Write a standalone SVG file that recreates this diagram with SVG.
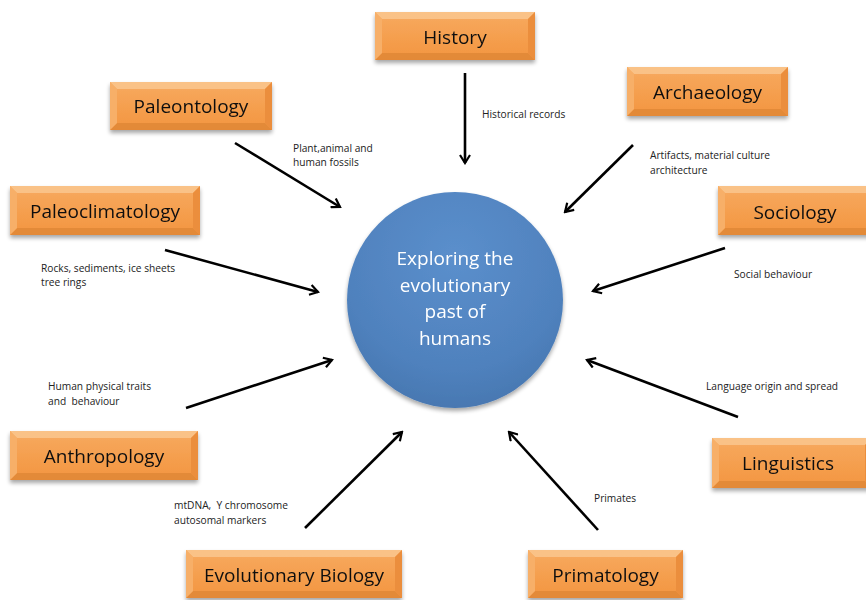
<svg xmlns="http://www.w3.org/2000/svg" width="866" height="600" viewBox="0 0 866 600">
<defs>
<linearGradient id="og" x1="0" y1="0" x2="0" y2="1">
<stop offset="0" stop-color="#F7AA60"/>
<stop offset="1" stop-color="#F3953F"/>
</linearGradient>
<radialGradient id="cg" cx="0.5" cy="0.3" r="0.75">
<stop offset="0" stop-color="#5B8FCC"/>
<stop offset="0.7" stop-color="#4F81BD"/>
<stop offset="1" stop-color="#4675AE"/>
</radialGradient>
<filter id="sh" x="-20%" y="-20%" width="140%" height="150%">
<feGaussianBlur in="SourceAlpha" stdDeviation="2"/>
<feOffset dx="0" dy="3" result="b"/>
<feComponentTransfer><feFuncA type="linear" slope="0.35"/></feComponentTransfer>
<feMerge><feMergeNode/><feMergeNode in="SourceGraphic"/></feMerge>
</filter>
<marker id="ah" viewBox="0 0 12 12" refX="10" refY="6" markerWidth="12" markerHeight="12" markerUnits="userSpaceOnUse" orient="auto">
<path d="M2,1 L10,6 L2,11" fill="none" stroke="#000" stroke-width="2.2"/>
</marker>
</defs>
<style>
.box{fill:url(#og)}
.bt{fill:#F9C48C;opacity:0.9}
.bb{fill:#DE8536;opacity:0.75}
.bl{fill:#F7AF68}
.br{fill:#EB8E3E}
.bx{font-family:"Open Sans","Liberation Sans",sans-serif;font-size:19px;fill:#111;text-anchor:middle}
.lb{font-family:"Open Sans","Liberation Sans",sans-serif;font-size:10.2px;fill:#222;white-space:pre}
.ct{font-family:"Open Sans","Liberation Sans",sans-serif;font-size:19px;fill:#fff;text-anchor:middle}
.cn{stroke:#000;stroke-width:2.6;fill:none;marker-end:url(#ah)}
</style>

<g id="center" filter="url(#sh)">
<circle cx="455" cy="300" r="108" fill="url(#cg)"/>
<text class="ct" x="455" y="265">Exploring the</text>
<text class="ct" x="455" y="292">evolutionary</text>
<text class="ct" x="455" y="318">past of</text>
<text class="ct" x="455" y="345">humans</text>
</g>

<g id="connectors">
<line class="cn" x1="465" y1="73" x2="465" y2="163"/>
<line class="cn" x1="235" y1="143" x2="340" y2="207"/>
<line class="cn" x1="633" y1="145" x2="565" y2="212"/>
<line class="cn" x1="165" y1="250" x2="318" y2="292"/>
<line class="cn" x1="725" y1="248" x2="593" y2="291"/>
<line class="cn" x1="186" y1="408" x2="332" y2="360"/>
<line class="cn" x1="738" y1="417" x2="587" y2="360"/>
<line class="cn" x1="305" y1="528" x2="402" y2="432"/>
<line class="cn" x1="598" y1="530" x2="509" y2="432"/>
</g>

<g id="labels">
<text class="lb" x="482" y="118">Historical records</text>
<text class="lb" x="293" y="152">Plant,animal and</text>
<text class="lb" x="293" y="166">human fossils</text>
<text class="lb" x="650" y="159">Artifacts, material culture</text>
<text class="lb" x="650" y="174">architecture</text>
<text class="lb" x="41" y="272">Rocks, sediments, ice sheets</text>
<text class="lb" x="41" y="286">tree rings</text>
<text class="lb" x="734" y="278">Social behaviour</text>
<text class="lb" x="48" y="390">Human physical traits</text>
<text class="lb" x="48" y="405" xml:space="preserve">and  behaviour</text>
<text class="lb" x="706" y="390">Language origin and spread</text>
<text class="lb" x="174" y="509" xml:space="preserve">mtDNA,  Y chromosome</text>
<text class="lb" x="174" y="524">autosomal markers</text>
<text class="lb" x="594" y="502">Primates</text>
</g>

<g id="history" filter="url(#sh)" transform="translate(375,12)">
<rect class="box" width="160" height="48"/>
<polygon class="bt" points="0,0 160,0 153,7 7,7"/>
<polygon class="bb" points="0,48 160,48 153,41 7,41"/>
<polygon class="bl" points="0,0 7,7 7,41 0,48"/>
<polygon class="br" points="160,0 153,7 153,41 160,48"/>
<text class="bx" x="80" y="32">History</text>
</g>

<g id="paleontology" filter="url(#sh)" transform="translate(110,82)">
<rect class="box" width="162" height="48"/>
<polygon class="bt" points="0,0 162,0 155,7 7,7"/>
<polygon class="bb" points="0,48 162,48 155,41 7,41"/>
<polygon class="bl" points="0,0 7,7 7,41 0,48"/>
<polygon class="br" points="162,0 155,7 155,41 162,48"/>
<text class="bx" x="81" y="31">Paleontology</text>
</g>

<g id="archaeology" filter="url(#sh)" transform="translate(627,67)">
<rect class="box" width="161" height="49"/>
<polygon class="bt" points="0,0 161,0 154,7 7,7"/>
<polygon class="bb" points="0,49 161,49 154,42 7,42"/>
<polygon class="bl" points="0,0 7,7 7,42 0,49"/>
<polygon class="br" points="161,0 154,7 154,42 161,49"/>
<text class="bx" x="80.5" y="32">Archaeology</text>
</g>

<g id="paleoclimatology" filter="url(#sh)" transform="translate(10,186)">
<rect class="box" width="190" height="49"/>
<polygon class="bt" points="0,0 190,0 183,7 7,7"/>
<polygon class="bb" points="0,49 190,49 183,42 7,42"/>
<polygon class="bl" points="0,0 7,7 7,42 0,49"/>
<polygon class="br" points="190,0 183,7 183,42 190,49"/>
<text class="bx" x="95" y="32">Paleoclimatology</text>
</g>

<g id="sociology" filter="url(#sh)" transform="translate(718,186)">
<rect class="box" width="156" height="49"/>
<polygon class="bt" points="0,0 156,0 149,7 7,7"/>
<polygon class="bb" points="0,49 156,49 149,42 7,42"/>
<polygon class="bl" points="0,0 7,7 7,42 0,49"/>
<polygon class="br" points="156,0 149,7 149,42 156,49"/>
<text class="bx" x="77" y="33">Sociology</text>
</g>

<g id="anthropology" filter="url(#sh)" transform="translate(10,431)">
<rect class="box" width="188" height="49"/>
<polygon class="bt" points="0,0 188,0 181,7 7,7"/>
<polygon class="bb" points="0,49 188,49 181,42 7,42"/>
<polygon class="bl" points="0,0 7,7 7,42 0,49"/>
<polygon class="br" points="188,0 181,7 181,42 188,49"/>
<text class="bx" x="94" y="32">Anthropology</text>
</g>

<g id="linguistics" filter="url(#sh)" transform="translate(712,438)">
<rect class="box" width="160" height="50"/>
<polygon class="bt" points="0,0 160,0 153,7 7,7"/>
<polygon class="bb" points="0,50 160,50 153,43 7,43"/>
<polygon class="bl" points="0,0 7,7 7,43 0,50"/>
<polygon class="br" points="160,0 153,7 153,43 160,50"/>
<text class="bx" x="76" y="32">Linguistics</text>
</g>

<g id="evolutionary-biology" filter="url(#sh)" transform="translate(186,550)">
<rect class="box" width="216" height="48"/>
<polygon class="bt" points="0,0 216,0 209,7 7,7"/>
<polygon class="bb" points="0,48 216,48 209,41 7,41"/>
<polygon class="bl" points="0,0 7,7 7,41 0,48"/>
<polygon class="br" points="216,0 209,7 209,41 216,48"/>
<text class="bx" x="108" y="32">Evolutionary Biology</text>
</g>

<g id="primatology" filter="url(#sh)" transform="translate(528,550)">
<rect class="box" width="155" height="48"/>
<polygon class="bt" points="0,0 155,0 148,7 7,7"/>
<polygon class="bb" points="0,48 155,48 148,41 7,41"/>
<polygon class="bl" points="0,0 7,7 7,41 0,48"/>
<polygon class="br" points="155,0 148,7 148,41 155,48"/>
<text class="bx" x="77.5" y="32">Primatology</text>
</g>
</svg>
